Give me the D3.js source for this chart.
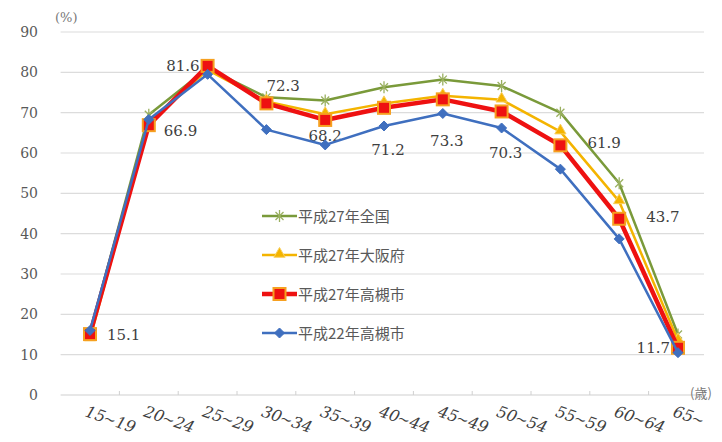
<!DOCTYPE html>
<html>
<head>
<meta charset="utf-8">
<script src="https://cdn.jsdelivr.net/npm/d3@7"></script>
<style>
  body { margin: 0; background: #fff; }
</style>
</head>
<body>
<div id="container"></div>
<script>
// age groups (two parts, drawn as a tilted label)
var ageFrom = ["15", "20", "25", "30", "35", "40", "45", "50", "55", "60", "65"];
var ageTo   = ["19", "24", "29", "34", "39", "44", "49", "54", "59", "64", ""];
var yTicks = [0, 10, 20, 30, 40, 50, 60, 70, 80, 90];

var seriesNames = ["平成27年全国", "平成27年大阪府", "平成27年高槻市", "平成22年高槻市"];
var national27 = [15.5, 69.5, 81.0, 73.8, 73.0, 76.3, 78.2, 76.6, 70.0, 52.5, 15.0];
var osaka27    = [14.0, 67.5, 80.6, 72.8, 69.6, 72.3, 74.2, 73.2, 65.3, 48.0, 13.5];
var takatsuki27 = [15.1, 66.9, 81.6, 72.3, 68.2, 71.2, 73.3, 70.3, 61.9, 43.7, 11.7];
var takatsuki22 = [16.0, 68.3, 79.5, 65.8, 62.0, 66.7, 69.8, 66.2, 56.0, 38.7, 10.5];
// where each data label of 平成27年高槻市 sits
var labelSide = ["right", "belowright", "left", "aboveright", "below", "farbelow", "farbelow", "farbelow", "farright", "farright", "left"];

var SERIF = "DejaVu Serif";
var W = 722, H = 442;
var svg = d3.select("#container").append("svg")
  .attr("width", W).attr("height", H);

var cats = ageFrom.map(function(d, i){ return i; });
var x = d3.scalePoint().domain(cats).range([90, 678]);
var y = d3.scaleLinear().domain([0, 90]).range([395, 32]);
var step = x.step();
var left = x(0) - step / 2, right = 704;

// gridlines
svg.append("g").selectAll("line")
  .data(yTicks.filter(function(t){ return t > 0; }))
  .enter().append("line")
    .attr("x1", left).attr("x2", right)
    .attr("y1", function(d){ return y(d); })
    .attr("y2", function(d){ return y(d); })
    .attr("stroke", "#dcdcdc").attr("stroke-width", 1.2);

// x axis line + boundary ticks
svg.append("line")
  .attr("x1", left).attr("x2", right)
  .attr("y1", y(0)).attr("y2", y(0))
  .attr("stroke", "#d0d0d0").attr("stroke-width", 1.2);
svg.append("g").selectAll("line")
  .data(d3.range(1, cats.length))
  .enter().append("line")
    .attr("x1", function(d){ return x(d) - step / 2; })
    .attr("x2", function(d){ return x(d) - step / 2; })
    .attr("y1", y(0)).attr("y2", y(0) - 4)
    .attr("stroke", "#d0d0d0");

// y tick labels
svg.append("g").selectAll("text")
  .data(yTicks)
  .enter().append("text")
    .attr("x", 38).attr("y", function(d){ return y(d) + 5; })
    .attr("text-anchor", "end")
    .attr("font-family", SERIF)
    .attr("font-size", 14).attr("fill", "#595959")
    .text(function(d){ return d; });

svg.append("text").attr("x", 55).attr("y", 22)
  .attr("font-family", SERIF)
  .attr("font-size", 13).attr("fill", "#777").text("(%)");
svg.append("text").attr("x", 690).attr("y", 398)
  .attr("font-family", "Noto Sans CJK JP").attr("font-size", 13)
  .attr("fill", "#777").text("(歳)");

// x tick labels, tilted like the scan
var xl = svg.append("g").selectAll("text")
  .data(cats)
  .enter().append("text")
    .attr("transform", function(i){
      return "translate(" + (x(i) - 6) + ",416) rotate(19)";
    })
    .attr("font-family", SERIF)
    .attr("font-size", 16).attr("font-style", "italic").attr("fill", "#404040");
xl.append("tspan").text(function(i){ return ageFrom[i]; });
xl.append("tspan").attr("font-size", 15).attr("dx", -1)
  .attr("font-style", "normal")
  .text("~");
xl.append("tspan").attr("dx", 0).text(function(i){ return ageTo[i]; });

var line = d3.line()
  .x(function(d, i){ return x(i); })
  .y(function(d){ return y(d); });

var styles = [
  { data: national27, color: "#7a9a3a", width: 2.5, marker: "star" },
  { data: osaka27, color: "#f4b400", width: 2.5, marker: "triangle" },
  { data: takatsuki27, color: "#ee1111", width: 4.5, marker: "square" },
  { data: takatsuki22, color: "#3f6fbf", width: 2.5, marker: "diamond" }
];

function drawMarker(g, kind, color, cx, cy){
  if(kind == "star"){
    var p = "M-4,-4L4,4M-4,4L4,-4M0,-6L0,6";
    g.append("path").attr("d", p).attr("transform", "translate(" + cx + "," + cy + ")")
      .attr("stroke", "#9ab060").attr("stroke-width", 1.3).attr("fill", "none");
  } else if(kind == "triangle"){
    g.append("path").attr("d", d3.symbol(d3.symbolTriangle, 55)())
      .attr("transform", "translate(" + cx + "," + (cy - 1) + ")")
      .attr("fill", color).attr("stroke", "#f8d060").attr("stroke-width", 1);
  } else if(kind == "square"){
    g.append("rect").attr("x", cx - 6).attr("y", cy - 6)
      .attr("width", 12).attr("height", 12)
      .attr("fill", "#ee1111").attr("stroke", "#f6a020").attr("stroke-width", 2);
  } else {
    g.append("path").attr("d", "M0,-5L5,0L0,5L-5,0Z")
      .attr("transform", "translate(" + cx + "," + cy + ")")
      .attr("fill", color).attr("stroke", color);
  }
}

// data labels for 平成27年高槻市 (drawn under the marks)
var offs = {
  right: [17, 6, "start"], left: [-8, 5, "end"], below: [0, 21, "middle"],
  belowright: [15, 11, "start"], aboveright: [0, -12, "start"],
  farbelow: [4, 47, "middle"], farright: [27, 3, "start"]
};
svg.append("g").selectAll("text")
  .data(takatsuki27)
  .enter().append("text")
    .attr("x", function(d, i){ return x(i) + offs[labelSide[i]][0]; })
    .attr("y", function(d, i){ return y(d) + offs[labelSide[i]][1]; })
    .attr("text-anchor", function(d, i){ return offs[labelSide[i]][2]; })
    .attr("font-family", SERIF)
    .attr("font-size", 15).attr("fill", "#404040")
    .text(function(d){ return d.toFixed(1); });

styles.forEach(function(s){
  svg.append("path")
    .attr("d", line(s.data))
    .attr("fill", "none")
    .attr("stroke", s.color)
    .attr("stroke-width", s.width)
    .attr("stroke-linejoin", "round");
  var g = svg.append("g");
  s.data.forEach(function(v, i){ drawMarker(g, s.marker, s.color, x(i), y(v)); });
});

// legend
var lg = svg.append("g");
seriesNames.forEach(function(name, i){
  var ly = 216 + i * 39;
  var s = styles[i];
  lg.append("line").attr("x1", 262).attr("x2", 297).attr("y1", ly).attr("y2", ly)
    .attr("stroke", s.color).attr("stroke-width", s.width);
  drawMarker(lg, s.marker, s.color, 279.5, ly);
  lg.append("text").attr("x", 298).attr("y", ly + 6)
    .attr("font-family", "Noto Sans CJK JP").attr("font-size", 15)
    .attr("fill", "#595959").text(name);
});
</script>
</body>
</html>
